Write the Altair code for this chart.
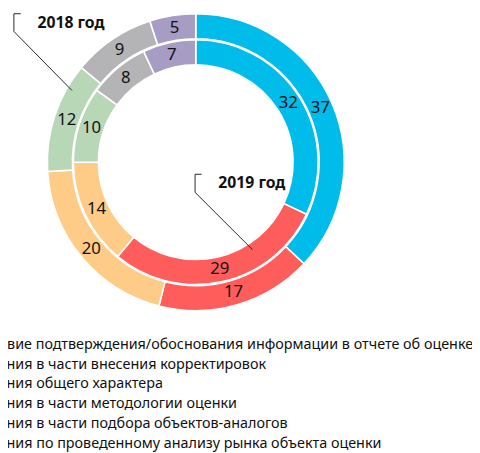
import altair as alt
import pandas as pd

categories = [
    "Отсутствие подтверждения/обоснования информации в отчете об оценке",
    "Замечания в части внесения корректировок",
    "Замечания общего характера",
    "Замечания в части методологии оценки",
    "Замечания в части подбора объектов-аналогов",
    "Замечания по проведенному анализу рынка объекта оценки",
]
values_2018 = [37, 17, 20, 12, 9, 5]
values_2019 = [32, 29, 14, 10, 8, 7]
colors = ["#00BCEB", "#FF5C5C", "#FFCC88", "#B7D7B7", "#B4B4B6", "#A79CC4"]
ring_titles = ["2018 год", "2019 год"]

df18 = pd.DataFrame({"cat": categories, "val": values_2018, "idx": range(6)})
df19 = pd.DataFrame({"cat": categories, "val": values_2019, "idx": range(6)})

CX, CY = 191, 153
FONT = "Noto Sans"

color_scale = alt.Scale(domain=categories, range=colors)


def ring(df, r_out, r_in, r_lab, show_legend):
    legend = None
    if show_legend:
        legend = alt.Legend(
            title=None, orient="none", legendX=-74.5, legendY=331.5,
            direction="vertical", symbolType="square", symbolSize=100,
            labelFontSize=14.6, labelFont=FONT, labelColor="#111111",
            labelLimit=1000, labelOffset=6, rowPadding=5.2, padding=0,
            symbolStrokeWidth=0,
        )
    base = alt.Chart(df).encode(
        theta=alt.Theta("val:Q", stack=True),
        order=alt.Order("idx:Q", sort="ascending"),
    )
    arcs = base.mark_arc(
        radius=r_out, radius2=r_in, stroke="white", strokeWidth=1.6
    ).encode(
        color=alt.Color("cat:N", scale=color_scale, legend=legend, sort=categories),
        x=alt.value(CX), y=alt.value(CY),
    )
    labels = base.mark_text(
        radius=r_lab, font=FONT, fontSize=17, color="#111111"
    ).encode(
        text=alt.Text("val:Q"), x=alt.value(CX), y=alt.value(CY),
    )
    return arcs + labels


outer = ring(df18, 151, 125.5, 138, True)
inner = ring(df19, 124.5, 99, 111.5, False)

tdf = pd.DataFrame({"t": ring_titles})
title18 = alt.Chart(tdf).transform_filter("datum.t == '2018 год'").mark_text(
    font=FONT, fontSize=16, fontWeight="bold", align="left", baseline="middle", color="#111111"
).encode(text="t:N", x=alt.value(30), y=alt.value(12))
title19 = alt.Chart(tdf).transform_filter("datum.t == '2019 год'").mark_text(
    font=FONT, fontSize=16, fontWeight="bold", align="left", baseline="middle", color="#111111"
).encode(text="t:N", x=alt.value(214), y=alt.value(174))


def seg(x1, y1, x2, y2):
    return alt.Chart(tdf.head(1)).mark_rule(color="#111111", strokeWidth=0.9).encode(
        x=alt.value(x1), y=alt.value(y1), x2=alt.value(x2), y2=alt.value(y2)
    )


leaders = (
    seg(6, 2, 13, 2) + seg(6, 2, 6, 20) + seg(6, 20, 65, 80)
    + seg(190.3, 165.3, 197, 165.3) + seg(190.3, 165.3, 190.3, 183.7) + seg(190.3, 183.7, 248.7, 242)
)

chart = alt.layer(outer, inner, leaders, title18, title19).resolve_scale(
    theta="independent"
).properties(
    width=472, height=445, padding=0,
    autosize=alt.AutoSizeParams(type="none"),
).configure_view(stroke=None)

chart.save("out.html", embed_options={"renderer": "svg", "actions": False})
